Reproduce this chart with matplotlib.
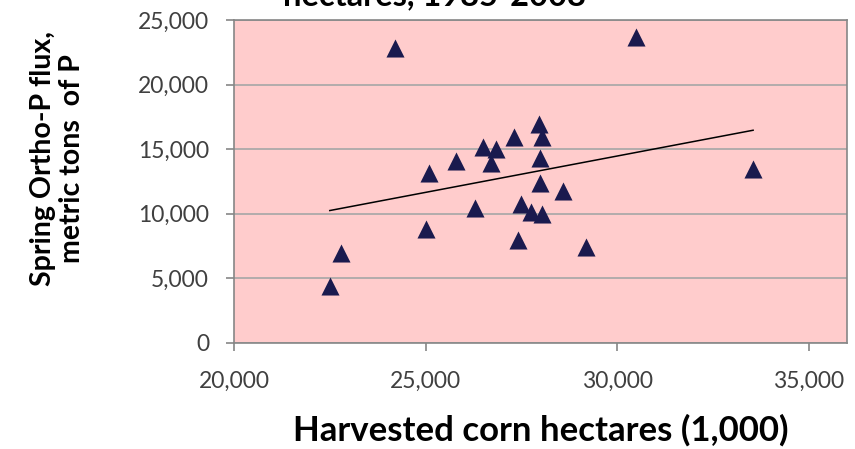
import matplotlib.pyplot as plt
import numpy as np
from matplotlib.ticker import FuncFormatter

plt.rcParams['font.family'] = ['Lato', 'DejaVu Sans']

# harvested corn area (1,000 ha) and spring ortho-P flux (metric tons P)
corn_ha = [24200, 22500, 22800, 25100, 25000, 25800, 26300, 26500, 26850,
           26700, 27300, 27950, 28050, 28000, 28000, 27500, 27750, 28050,
           27400, 30500, 28600, 29200, 33550]
ortho_p = [22800, 4400, 6950, 13150, 8850, 14100, 10450, 15150, 15050,
           13950, 15950, 16950, 15950, 14300, 12400, 10750, 10100, 9950,
           7950, 23650, 11800, 7400, 13450]

x_ticks = [20000, 25000, 30000, 35000]
y_ticks = [0, 5000, 10000, 15000, 20000, 25000]

fig = plt.figure(figsize=(8.55, 4.49), dpi=100)
ax = fig.add_axes([0.2737, 0.2361, 0.7169, 0.7194])
ax.set_facecolor('#FFCCCC')

ax.scatter(corn_ha, ortho_p, marker='^', s=13 ** 2, color='#1A1A4E',
           linewidths=0, zorder=3)

# linear trendline across the range of the data
slope, intercept = np.polyfit(corn_ha, ortho_p, 1)
xs = np.array([min(corn_ha), max(corn_ha)])
ax.plot(xs, slope * xs + intercept, color='black', lw=1.1, zorder=2)

ax.set_xlim(20000, 36000)
ax.set_ylim(0, 25000)
ax.set_xticks(x_ticks)
ax.set_yticks(y_ticks)
fmt = FuncFormatter(lambda v, p: f'{int(v):,}')
ax.xaxis.set_major_formatter(fmt)
ax.yaxis.set_major_formatter(fmt)

ax.yaxis.grid(True, color='#A6A6A6', lw=1.2)
ax.set_axisbelow(True)
for side in ['left', 'bottom', 'top', 'right']:
    ax.spines[side].set_color('#868686')
    ax.spines[side].set_linewidth(1.2)

ax.tick_params(axis='both', direction='out', length=6, width=1.2,
               color='#868686', labelsize=16.5, labelcolor='#404040')
ax.tick_params(axis='x', pad=14)
ax.tick_params(axis='y', pad=12)

ax.set_xlabel('Harvested corn hectares (1,000)', fontsize=25,
              fontweight='bold', labelpad=16)
ax.set_ylabel('Spring Ortho-P flux,\nmetric tons  of P', fontsize=20.5,
              fontweight='bold', linespacing=1.15)
ax.yaxis.set_label_coords(-0.243, 0.57)

fig.text(0.508, 0.988, 'hectares, 1985-2008', ha='center', va='baseline',
         fontsize=23.5, fontweight='bold')

fig.savefig('out.png', dpi=100)
